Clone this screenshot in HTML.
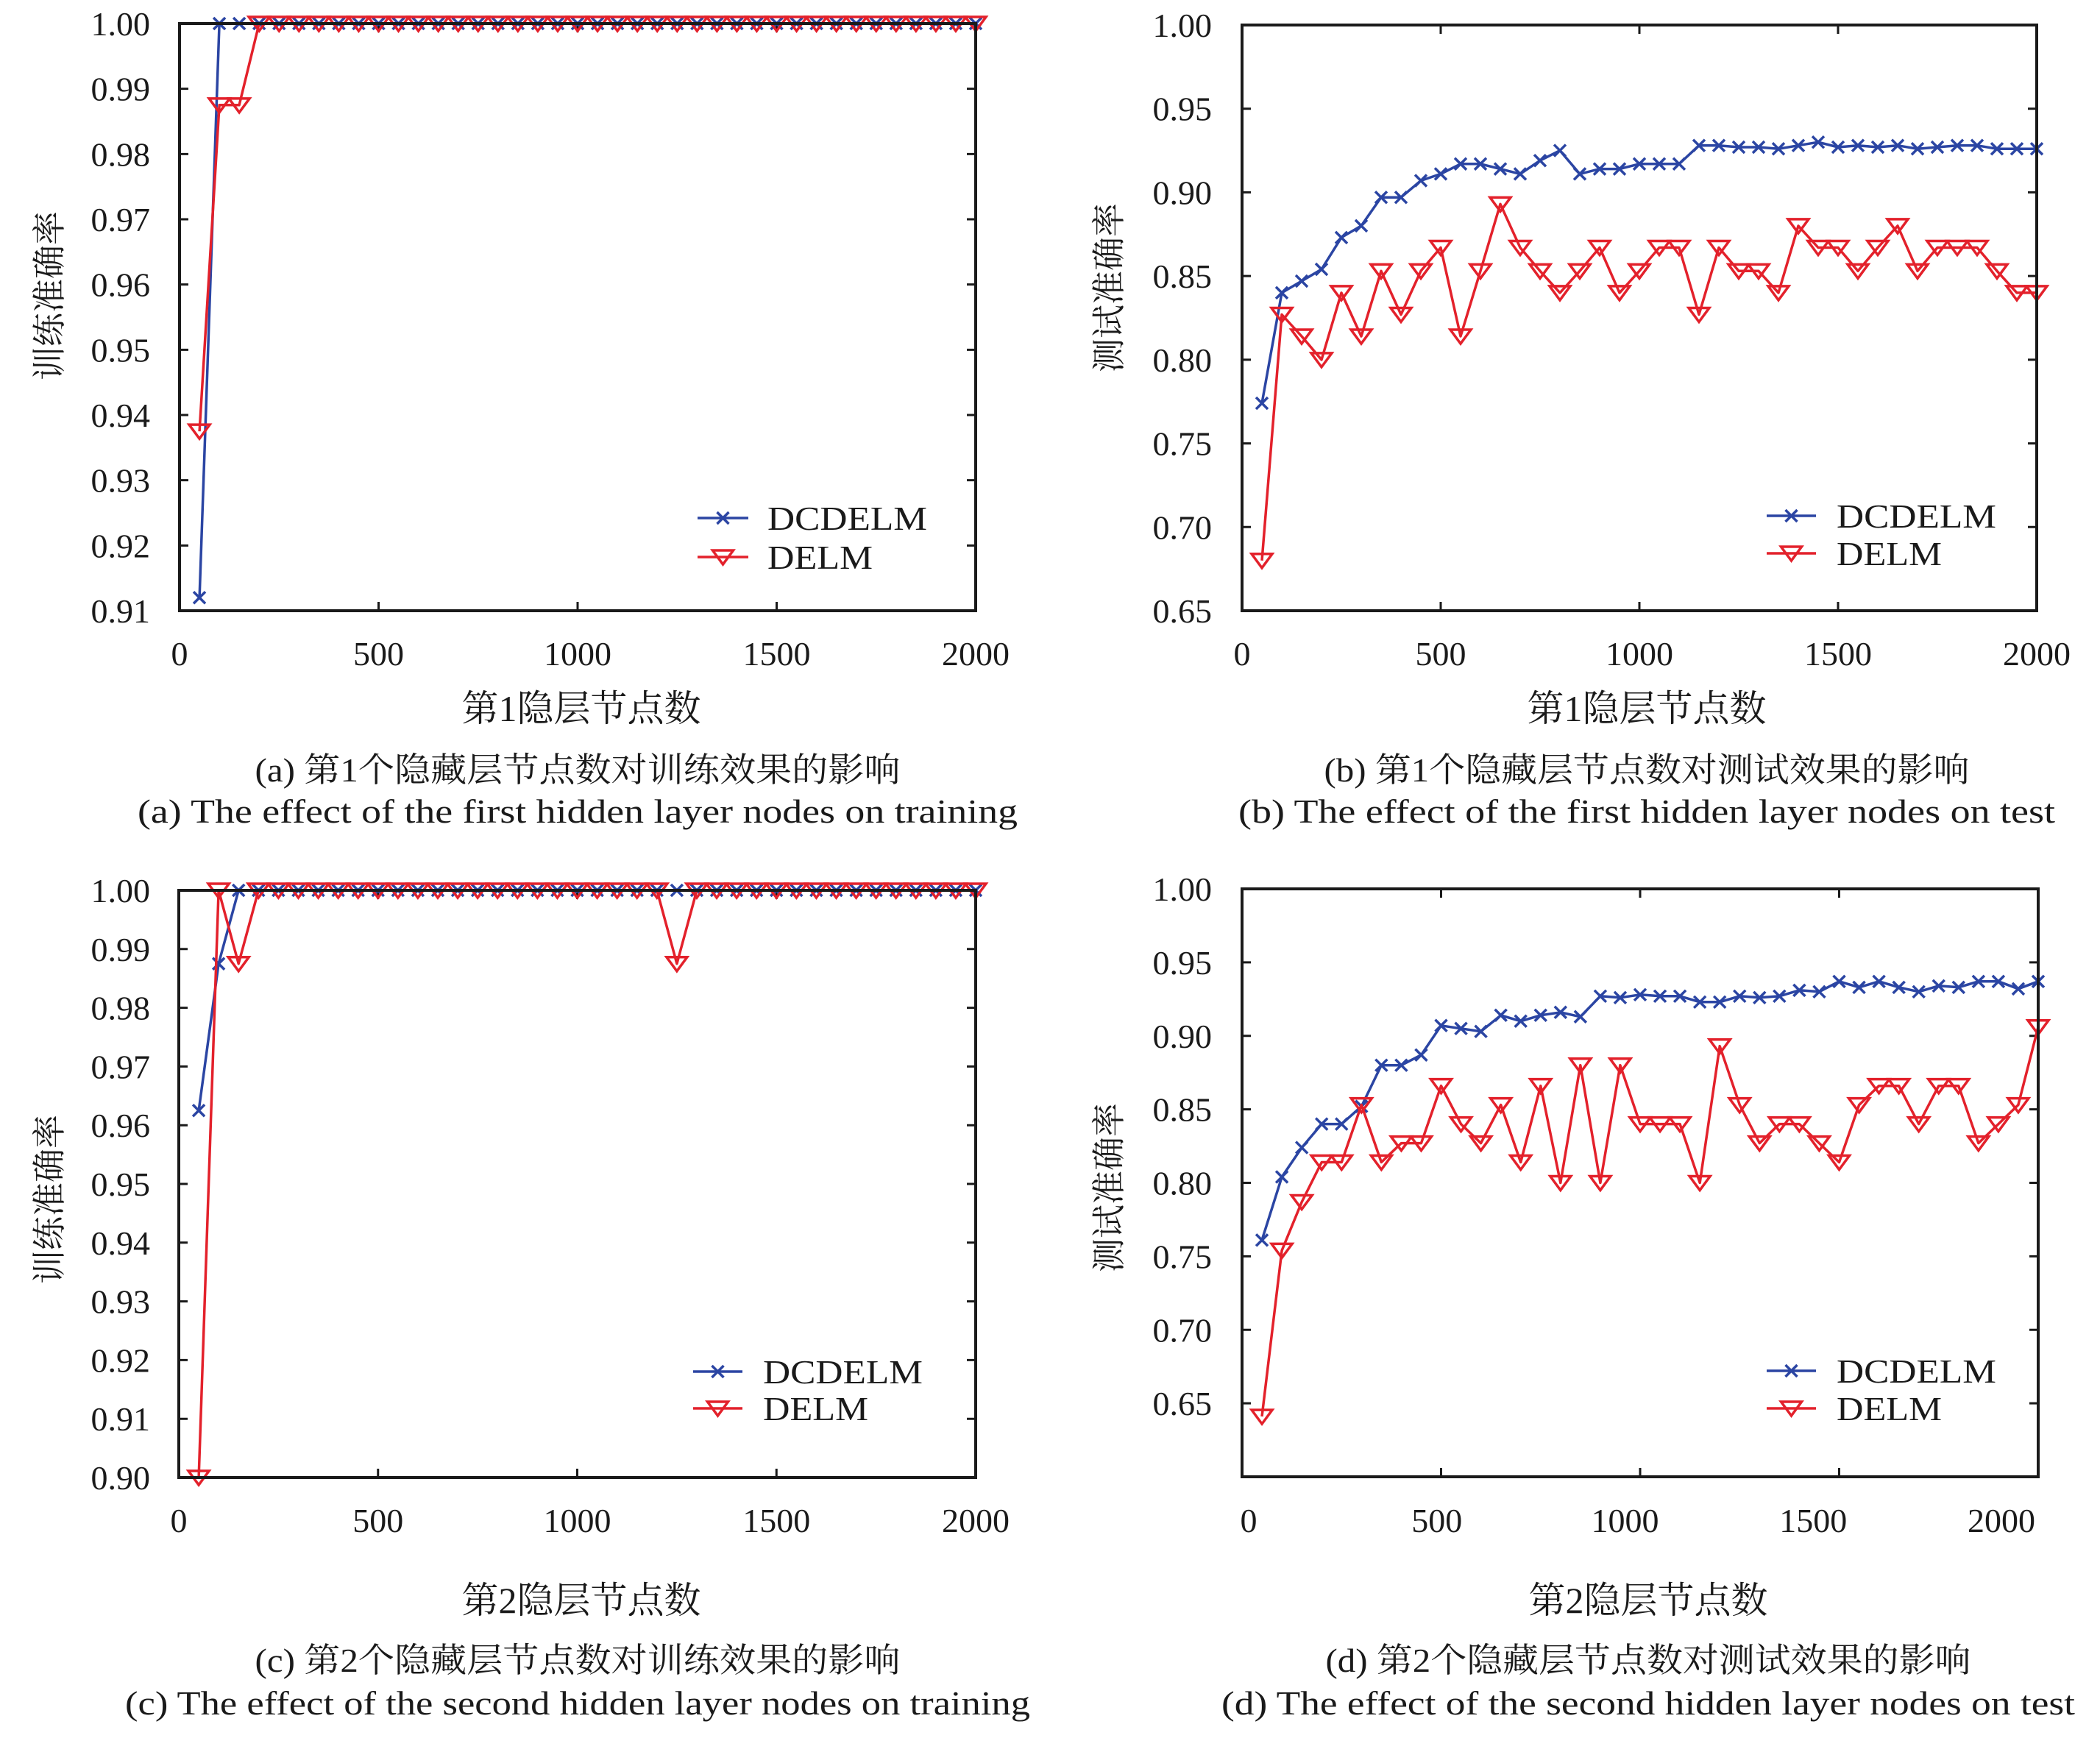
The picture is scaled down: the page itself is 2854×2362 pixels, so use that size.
<!DOCTYPE html>
<html><head><meta charset="utf-8"><style>
html,body{margin:0;padding:0;background:#fff;}
svg{display:block;}
text{font-family:"Liberation Serif","Noto Serif CJK SC","Noto Sans CJK SC",serif;fill:#1a1a1a;}
</style></head><body>
<svg id="fig" width="2854" height="2362" viewBox="0 0 2854 2362" xmlns="http://www.w3.org/2000/svg"></svg>
<script>
const xNodes = [50,100,150,200,250,300,350,400,450,500,550,600,650,700,750,800,850,900,950,1000,1050,1100,1150,1200,1250,1300,1350,1400,1450,1500,1550,1600,1650,1700,1750,1800,1850,1900,1950,2000];
const seriesNames = ["DCDELM","DELM"];
const aBlue = [0.912,1,1,1,1,1,1,1,1,1,1,1,1,1,1,1,1,1,1,1,1,1,1,1,1,1,1,1,1,1,1,1,1,1,1,1,1,1,1,1];
const aRed = [0.9375,0.9875,0.9875,1,1,1,1,1,1,1,1,1,1,1,1,1,1,1,1,1,1,1,1,1,1,1,1,1,1,1,1,1,1,1,1,1,1,1,1,1];
const bBlue = [0.774,0.840,0.847,0.854,0.873,0.880,0.897,0.897,0.907,0.911,0.917,0.917,0.914,0.911,0.919,0.925,0.911,0.914,0.914,0.917,0.917,0.917,0.928,0.928,0.927,0.927,0.926,0.928,0.930,0.927,0.928,0.927,0.928,0.926,0.927,0.928,0.928,0.926,0.926,0.926];
const bRed = [0.680,0.827,0.814,0.800,0.840,0.814,0.853,0.827,0.853,0.867,0.814,0.853,0.893,0.867,0.853,0.840,0.853,0.867,0.840,0.853,0.867,0.867,0.827,0.867,0.853,0.853,0.840,0.880,0.867,0.867,0.853,0.867,0.880,0.853,0.867,0.867,0.867,0.853,0.840,0.840];
const cBlue = [0.9625,0.9875,1,1,1,1,1,1,1,1,1,1,1,1,1,1,1,1,1,1,1,1,1,1,1,1,1,1,1,1,1,1,1,1,1,1,1,1,1,1];
const cRed = [0.90,1,0.9875,1,1,1,1,1,1,1,1,1,1,1,1,1,1,1,1,1,1,1,1,1,0.9875,1,1,1,1,1,1,1,1,1,1,1,1,1,1,1];
const dBlue = [0.761,0.804,0.824,0.840,0.840,0.852,0.880,0.880,0.887,0.907,0.905,0.903,0.914,0.910,0.914,0.916,0.913,0.927,0.926,0.928,0.927,0.927,0.923,0.923,0.927,0.926,0.927,0.931,0.930,0.937,0.933,0.937,0.933,0.930,0.934,0.933,0.937,0.937,0.932,0.937];
const dRed = [0.641,0.754,0.787,0.814,0.814,0.853,0.814,0.827,0.827,0.866,0.840,0.827,0.853,0.814,0.866,0.800,0.880,0.800,0.880,0.840,0.840,0.840,0.800,0.893,0.853,0.827,0.840,0.840,0.827,0.814,0.853,0.866,0.866,0.840,0.866,0.866,0.827,0.840,0.853,0.906];
const xTicks = [0,500,1000,1500,2000];
const yTicksA = [0.91,0.92,0.93,0.94,0.95,0.96,0.97,0.98,0.99,1.00];
const yTicksB = [0.65,0.70,0.75,0.80,0.85,0.90,0.95,1.00];
const yTicksC = [0.90,0.91,0.92,0.93,0.94,0.95,0.96,0.97,0.98,0.99,1.00];
const yTicksD = [0.65,0.70,0.75,0.80,0.85,0.90,0.95,1.00];

const NS="http://www.w3.org/2000/svg";
const svg=document.getElementById('fig');
const BLUE="#2b45a3", RED="#e3212b";
function mk(tag,attrs,parent){const e=document.createElementNS(NS,tag);for(const k in attrs)e.setAttribute(k,attrs[k]);(parent||svg).appendChild(e);return e;}

const panels=[
 {id:'a',L:244,R:1326,T:32,B:830,ymin:0.91,ymax:1.00,yt:yTicksA,blue:aBlue,red:aRed,yl:'训练准确率',ylx:67,yly:402,tlr:204,xlab:'第1隐层节点数',xlc:790,
  leg:{x1:948,x2:1017,tx:1043,y1:704,y2:757},cap1:'(a) 第1个隐藏层节点数对训练效果的影响',cap2:'(a) The effect of the first hidden layer nodes on training',capc:785,tickY:904,xlY:980,c1Y:1062,c2Y:1118,c1W:877,c2W:1196,labs:null},
 {id:'b',L:1688,R:2768,T:34,B:830,ymin:0.65,ymax:1.00,yt:yTicksB,blue:bBlue,red:bRed,yl:'测试准确率',ylx:1507,yly:391,tlr:1647,xlab:'第1隐层节点数',xlc:2238,
  leg:{x1:2401,x2:2468,tx:2496,y1:701,y2:752},cap1:'(b) 第1个隐藏层节点数对测试效果的影响',cap2:'(b) The effect of the first hidden layer nodes on test',capc:2238,tickY:904,xlY:980,c1Y:1062,c2Y:1118,c1W:877,c2W:1110,labs:null},
 {id:'c',L:243,R:1326,T:1210,B:2008,ymin:0.90,ymax:1.00,yt:yTicksC,blue:cBlue,red:cRed,yl:'训练准确率',ylx:67,yly:1630,tlr:204,xlab:'第2隐层节点数',xlc:790,
  leg:{x1:942,x2:1009,tx:1037,y1:1864,y2:1914},cap1:'(c) 第2个隐藏层节点数对训练效果的影响',cap2:'(c) The effect of the second hidden layer nodes on training',capc:785,tickY:2082,xlY:2192,c1Y:2272,c2Y:2330,c1W:877,c2W:1230,labs:null},
 {id:'d',L:1688,R:2770,T:1208,B:2007,ymin:0.60,ymax:1.00,yt:yTicksD,blue:dBlue,red:dRed,yl:'测试准确率',ylx:1507,yly:1614,tlr:1647,xlab:'第2隐层节点数',xlc:2240,
  leg:{x1:2401,x2:2468,tx:2496,y1:1863,y2:1914},cap1:'(d) 第2个隐藏层节点数对测试效果的影响',cap2:'(d) The effect of the second hidden layer nodes on test',capc:2240,tickY:2082,xlY:2192,c1Y:2272,c2Y:2330,c1W:877,c2W:1160,labs:{x0:1697,k:0.5115}}
];

function xMarker(g,x,y){mk('path',{d:`M${x-8} ${y-8}L${x+8} ${y+8}M${x-8} ${y+8}L${x+8} ${y-8}`,stroke:BLUE,'stroke-width':3.5,fill:'none'},g);}
function triMarker(g,x,y){mk('path',{d:`M${x-14} ${y-9}L${x+14} ${y-9}L${x} ${y+10}Z`,stroke:RED,'stroke-width':3.5,fill:'none','stroke-linejoin':'miter'},g);}

panels.forEach(p=>{
 const g=mk('g',{});
 
 
 const sx=v=>p.L+(v-0)/(2000-0)*(p.R-p.L);
 const sy=v=>p.B-(v-p.ymin)/(p.ymax-p.ymin)*(p.B-p.T);
 p.yt.forEach(t=>{
  const y=sy(t);
  const tk=mk('path',{d:`M${p.L} ${y}H${p.L+12}M${p.R} ${y}H${p.R-12}`,stroke:'#1a1a1a','stroke-width':3},g);
  
  
  const tl=mk('text',{x:p.tlr,y:y+16,'text-anchor':'end','font-size':46},g);
  
  
  tl.textContent=t.toFixed(2);
 });
 xTicks.forEach(t=>{
  const x=sx(t);
  const tk=mk('path',{d:`M${x} ${p.B}V${p.B-12}M${x} ${p.T}V${p.T+12}`,stroke:'#1a1a1a','stroke-width':3},g);
  
  
  const lx=p.labs?p.labs.x0+p.labs.k*t:x;
  const tl=mk('text',{x:lx,y:p.tickY,'text-anchor':'middle','font-size':46},g);
  
  
  tl.textContent=t;
 });
 const series=[{v:p.blue,c:BLUE,m:xMarker,n:'dcdelm'},{v:p.red,c:RED,m:triMarker,n:'delm'}];
 series.forEach(s=>{
  const d=xNodes.map((xv,i)=>(i?'L':'M')+sx(xv).toFixed(1)+' '+sy(s.v[i]).toFixed(1)).join('');
  const ln=mk('path',{d:d,stroke:s.c,'stroke-width':3.5,fill:'none','stroke-linejoin':'round'},g);
  
  
  const mg=mk('g',{},g);
  
  
  xNodes.forEach((xv,i)=>s.m(mg,sx(xv),sy(s.v[i])));
 });
 const fr=mk('rect',{x:p.L,y:p.T,width:p.R-p.L,height:p.B-p.T,fill:'none',stroke:'#1a1a1a','stroke-width':4},g);
 
 
 const lg=mk('g',{},g);
 
 
 mk('path',{d:`M${p.leg.x1} ${p.leg.y1}H${p.leg.x2}`,stroke:BLUE,'stroke-width':3.5},lg);
 xMarker(lg,(p.leg.x1+p.leg.x2)/2,p.leg.y1);
 const t1=mk('text',{x:p.leg.tx,y:p.leg.y1+16,'font-size':46,textLength:217,lengthAdjust:'spacingAndGlyphs'},lg);
 
 
 t1.textContent=seriesNames[0];
 mk('path',{d:`M${p.leg.x1} ${p.leg.y2}H${p.leg.x2}`,stroke:RED,'stroke-width':3.5},lg);
 triMarker(lg,(p.leg.x1+p.leg.x2)/2,p.leg.y2);
 const t2=mk('text',{x:p.leg.tx,y:p.leg.y2+16,'font-size':46,textLength:143,lengthAdjust:'spacingAndGlyphs'},lg);
 
 
 t2.textContent=seriesNames[1];
 const yl=mk('text',{x:0,y:0,'font-size':46,'text-anchor':'middle',transform:`translate(${p.ylx+16},${p.yly}) rotate(-90)`},g);
 
 
 yl.textContent=p.yl;
 const xl=mk('text',{x:p.xlc,y:p.xlY,'font-size':50,'text-anchor':'middle'},g);
 
 
 xl.textContent=p.xlab;
 const c1=mk('text',{x:p.capc,y:p.c1Y,'font-size':46,'text-anchor':'middle',textLength:p.c1W,lengthAdjust:'spacingAndGlyphs'},g);
 
 
 c1.textContent=p.cap1;
 const c2=mk('text',{x:p.capc,y:p.c2Y,'font-size':46,'text-anchor':'middle',textLength:p.c2W,lengthAdjust:'spacingAndGlyphs'},g);
 
 
 c2.textContent=p.cap2;
});
</script>
</body></html>
